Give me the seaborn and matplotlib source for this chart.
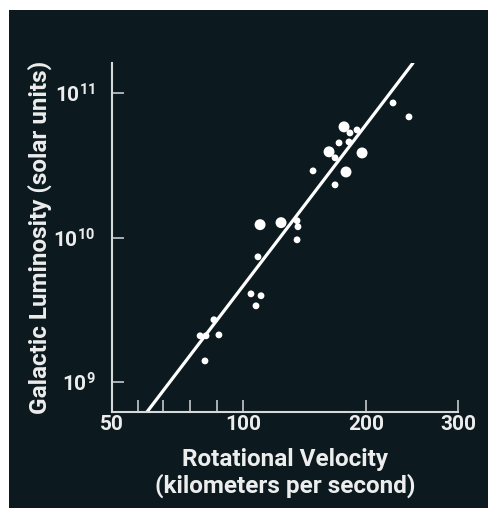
import numpy as np
import pandas as pd
import matplotlib
matplotlib.use("Agg")
import matplotlib.pyplot as plt
from matplotlib.patches import Rectangle
from matplotlib.ticker import FixedLocator, NullLocator, FuncFormatter
import seaborn as sns

# Galaxies: rotational velocity (km/s) vs luminosity (solar units)
velocity = [83.6, 85.8, 88.8, 90.7, 85.4, 104.6, 110.7, 107.6, 108.8, 110.1,
            123.9, 135.6, 136.3, 135.6, 148.4, 162.4, 168.0, 171.8, 168.0, 178.7,
            176.7, 182.7, 190.1, 181.7, 195.6, 225.3, 241.7]
luminosity = [2.09e9, 2.09e9, 2.70e9, 2.12e9, 1.40e9, 4.08e9, 3.96e9, 3.37e9, 7.36e9, 1.23e10,
              1.27e10, 1.31e10, 1.19e10, 9.66e9, 2.90e10, 3.93e10, 3.57e10, 4.53e10, 2.32e10, 2.85e10,
              5.85e10, 5.31e10, 5.57e10, 4.60e10, 3.86e10, 8.57e10, 6.86e10]
dot = ['small'] * 9 + ['big', 'big'] + ['small'] * 4 + ['big'] + ['small'] * 3 + ['big', 'big'] \
      + ['small'] * 3 + ['big'] + ['small'] * 2

# fitted relation, end points
fit_velocity = [63.4, 246.0]
fit_luminosity = [6.2e8, 1.62e11]

x_ticks = [50, 100, 200, 300]
x_minor = [60, 70, 80, 90]
y_ticks = [1e9, 1e10, 1e11]

xlabel = "Rotational Velocity\n(kilometers per second)"
ylabel = "Galactic Luminosity (solar units)"

# the drawn velocity axis is not a clean log axis, so calibrate it on its ticks
axis_vals = np.array([50, 60, 70, 80, 90, 100, 200, 300])
axis_pos = np.array([0, 26, 51, 78, 105, 131, 254, 346], dtype=float)
lv = np.log10(axis_vals)
s0 = (axis_pos[1] - axis_pos[0]) / (lv[1] - lv[0])
s1 = (axis_pos[-1] - axis_pos[-2]) / (lv[-1] - lv[-2])
lv_ext = np.r_[lv[0] - 6, lv, lv[-1] + 6]
pos_ext = np.r_[axis_pos[0] - 6 * s0, axis_pos, axis_pos[-1] + 6 * s1]


def fwd(v):
    v = np.log10(np.clip(np.asarray(v, dtype=float), 1e-6, None))
    return np.interp(v, lv_ext, pos_ext)


def inv(p):
    return 10 ** np.interp(np.asarray(p, dtype=float), pos_ext, lv_ext)


bg = '#0c1a1f'
fg = '#ededed'
axc = '#d5d9da'

sns.set_style("ticks")
plt.rcParams['font.family'] = ['Roboto', 'DejaVu Sans']

df = pd.DataFrame({'velocity': velocity, 'luminosity': luminosity, 'dot': dot})

fig = plt.figure(figsize=(4.89, 5.08), dpi=100)
fig.patch.set_facecolor('white')
fig.add_artist(Rectangle((9 / 489, 0), 480 / 489, 498 / 508, transform=fig.transFigure,
                         facecolor=bg, edgecolor='none', zorder=0))
ax = fig.add_axes([112 / 489, 1 - 412 / 508, 346 / 489, 349 / 508])
ax.set_facecolor(bg)

sns.scatterplot(data=df, x='velocity', y='luminosity', size='dot',
                sizes={'small': 24, 'big': 62}, color='white', edgecolor='none',
                legend=False, ax=ax, zorder=3)
sns.lineplot(x=fit_velocity, y=fit_luminosity, color='white', lw=2.3, ax=ax, zorder=2)

ax.set_xscale('function', functions=(fwd, inv))
ax.set_yscale('log')
ax.set_xlim(50, 300)
ax.set_ylim(6.2e8, 1.62e11)

ax.xaxis.set_major_locator(FixedLocator(x_ticks))
ax.xaxis.set_minor_locator(FixedLocator(x_minor))
ax.xaxis.set_major_formatter(FuncFormatter(lambda v, p: f"{v:.0f}"))
ax.xaxis.set_minor_formatter(FuncFormatter(lambda v, p: ""))
ax.yaxis.set_major_locator(FixedLocator(y_ticks))
ax.yaxis.set_minor_locator(NullLocator())
ax.yaxis.set_major_formatter(FuncFormatter(lambda v, p: r'$\mathregular{10^{%d}}$' % round(np.log10(v))))

for side in ['top', 'right']:
    ax.spines[side].set_visible(False)
for side in ['left', 'bottom']:
    ax.spines[side].set_color(axc)
    ax.spines[side].set_linewidth(1.5)

ax.tick_params(axis='both', which='both', direction='in', length=8.5, width=1.1, color=axc)
ax.tick_params(axis='x', which='major', pad=2, labelsize=15, labelcolor=fg)
ax.tick_params(axis='y', which='major', pad=12, labelsize=15, labelcolor=fg)
for lab in ax.get_xticklabels() + ax.get_yticklabels():
    lab.set_fontweight('bold')

ax.set_xlabel(xlabel, fontsize=17.5, fontweight='bold', color=fg, labelpad=10, linespacing=1.15)
ax.set_ylabel(ylabel, fontsize=17.5, fontweight='bold', color=fg, labelpad=1)

fig.savefig("out.png", dpi=100)
